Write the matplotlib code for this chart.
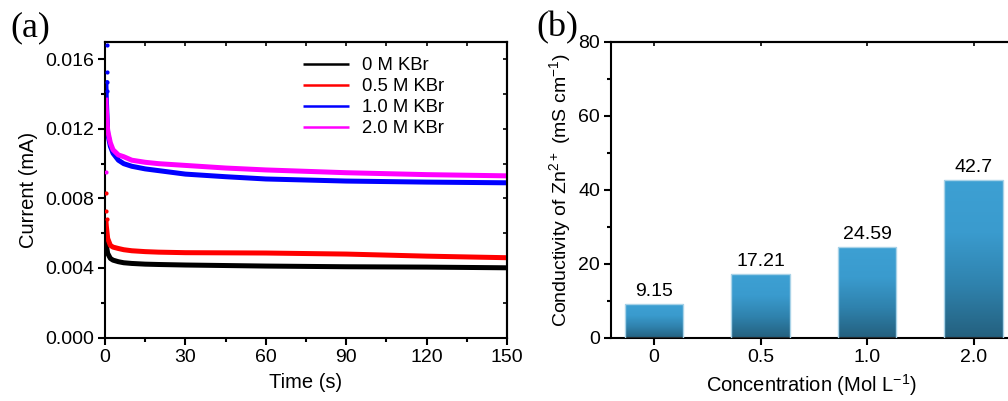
import matplotlib
matplotlib.use("Agg")
import matplotlib.pyplot as plt
import numpy as np
from matplotlib.colors import LinearSegmentedColormap
from matplotlib.ticker import MultipleLocator

plt.rcParams["font.family"] = ["Liberation Sans", "DejaVu Sans"]
plt.rcParams["mathtext.fontset"] = "custom"
plt.rcParams["mathtext.rm"] = "Liberation Sans"

# ---- panel (a): current vs time ----
t = [0.3, 0.5, 1, 2, 3, 5, 7, 10, 15, 20, 30, 45, 60, 90, 120, 150]
i_0 = [0.0056, 0.0053, 0.00484, 0.00455, 0.00445, 0.00436, 0.0043, 0.00426,
       0.00422, 0.0042, 0.00417, 0.00414, 0.00411, 0.00407, 0.00405, 0.00401]
i_05 = [0.0068, 0.0064, 0.0057, 0.0053, 0.0052, 0.00512, 0.00505, 0.00499,
        0.00494, 0.00491, 0.00488, 0.00487, 0.00486, 0.0048, 0.00468, 0.00459]
i_10 = [0.0148, 0.0137, 0.01175, 0.011, 0.0106, 0.0102, 0.0100, 0.00985,
        0.0097, 0.0096, 0.0094, 0.00925, 0.00912, 0.009, 0.00894, 0.0089]
i_20 = [0.0138, 0.0131, 0.0119, 0.0112, 0.0108, 0.0105, 0.0104, 0.0102,
        0.01008, 0.0100, 0.0099, 0.00975, 0.00964, 0.00948, 0.00937, 0.0093]

# early scattered points near t = 0
spike_t_05 = [0.5, 0.5, 0.6]
spike_i_05 = [0.0083, 0.0073, 0.0068]
spike_t_10 = [0.6, 0.6, 0.6, 0.7]
spike_i_10 = [0.0168, 0.0153, 0.0147, 0.0142]
spike_t_20 = [0.5]
spike_i_20 = [0.0095]

series = [
    ("0 M KBr", i_0, "black"),
    ("0.5 M KBr", i_05, "#ff0000"),
    ("1.0 M KBr", i_10, "#0000ff"),
    ("2.0 M KBr", i_20, "#ff00ff"),
]

# ---- panel (b): conductivity ----
conc_labels = ["0", "0.5", "1.0", "2.0"]
conductivity = [9.15, 17.21, 24.59, 42.7]
value_labels = ["9.15", "17.21", "24.59", "42.7"]

FS = 14

fig = plt.figure(figsize=(10.08, 4.01), dpi=100)
W, H = 1008, 401

ax1 = fig.add_axes([105 / W, 1 - 337.5 / H, 402 / W, 295.5 / H])
for label, vals, color in series:
    ax1.plot(t, vals, color=color, lw=3.6, label=label, solid_capstyle="butt")
ax1.scatter(spike_t_05, spike_i_05, s=4, color="#ff0000", zorder=3)
ax1.scatter(spike_t_10, spike_i_10, s=4, color="#0000ff", zorder=3)
ax1.scatter(spike_t_20, spike_i_20, s=4, color="#ff00ff", zorder=3)

ax1.set_xlim(0, 150)
ax1.set_ylim(0, 0.017)
ax1.xaxis.set_major_locator(MultipleLocator(30))
ax1.xaxis.set_minor_locator(MultipleLocator(15))
ax1.yaxis.set_major_locator(MultipleLocator(0.004))
ax1.yaxis.set_minor_locator(MultipleLocator(0.002))
ax1.yaxis.set_major_formatter(plt.FuncFormatter(lambda v, p: f"{v:.3f}"))
ax1.tick_params(which="both", direction="out", width=1.5, labelsize=FS)
ax1.tick_params(which="major", length=5, pad=3)
ax1.tick_params(which="minor", length=3)
ax1.set_xlabel("Time (s)", fontsize=FS + 0.5, labelpad=5)
ax1.set_ylabel("Current (mA)", fontsize=FS + 0.5, labelpad=5)
# inward ticks on top and right spines
ax1t = ax1.secondary_xaxis("top")
ax1t.xaxis.set_major_locator(MultipleLocator(30))
ax1t.xaxis.set_minor_locator(MultipleLocator(15))
ax1t.tick_params(which="both", direction="in", width=1.2, length=3, labeltop=False)
ax1r = ax1.secondary_yaxis("right")
ax1r.yaxis.set_major_locator(MultipleLocator(0.004))
ax1r.yaxis.set_minor_locator(MultipleLocator(0.002))
ax1r.tick_params(which="both", direction="in", width=1.2, length=3, labelright=False)
for sp in list(ax1.spines.values()) + [ax1t.spines["top"], ax1r.spines["right"]]:
    sp.set_linewidth(1.5)
leg = ax1.legend(loc="upper right", bbox_to_anchor=(0.885, 1.005), frameon=False,
                 fontsize=13.3, handlelength=2.5, handletextpad=0.7,
                 labelspacing=0.22)
for line in leg.get_lines():
    line.set_linewidth(1.8)
fig.text(10 / W, 1 - 28 / H, "(a)", fontsize=26, family="Liberation Serif",
         va="center", ha="left")

# ---- panel (b) ----
ax2 = fig.add_axes([611 / W, 1 - 337.5 / H, 400 / W, 295.5 / H])
x = np.arange(len(conductivity))
bars = ax2.bar(x, conductivity, width=0.55, color="none",
               edgecolor="#a9d3e8", lw=1.0, zorder=3)
cmap = LinearSegmentedColormap.from_list(
    "bar", ["#24607e", "#2f82ad", "#3a9bce", "#3da0d3"])
grad = np.linspace(0, 1, 256).reshape(-1, 1)
for b in bars:
    x0, w, h = b.get_x(), b.get_width(), b.get_height()
    im = ax2.imshow(grad, cmap=cmap, origin="lower", aspect="auto",
                    extent=(x0, x0 + w, 0, h), zorder=2)
    im.set_clip_path(b)
for xi, v, s in zip(x, conductivity, value_labels):
    ax2.text(xi, v + 1.1, s, ha="center", va="bottom", fontsize=FS)

ax2.set_xlim(-0.404, 3.35)
ax2.set_ylim(0, 80)
ax2.set_xticks(x)
ax2.set_xticklabels(conc_labels)
ax2.yaxis.set_major_locator(MultipleLocator(20))
ax2.yaxis.set_minor_locator(MultipleLocator(10))
ax2.tick_params(which="both", direction="out", width=1.5, labelsize=FS)
ax2.tick_params(which="major", length=5, pad=3)
ax2.tick_params(which="minor", length=3)
ax2.tick_params(axis="x", which="minor", bottom=False)
ax2.set_xlabel("Concentration (Mol L$^{-1}$)", fontsize=FS + 0.5, labelpad=5)
ax2.set_ylabel("Conductivity of Zn$^{2+}$ (mS cm$^{-1}$)", fontsize=FS,
               labelpad=3)
ax2t = ax2.secondary_xaxis("top")
ax2t.set_xticks(x)
ax2t.tick_params(direction="in", width=1.2, length=3, labeltop=False)
ax2t.spines["top"].set_linewidth(1.5)
for sp in ax2.spines.values():
    sp.set_linewidth(1.5)
fig.text(536 / W, 1 - 28 / H, "(b)", fontsize=26, family="Liberation Serif",
         va="center", ha="left")

fig.savefig("out.png", dpi=100)
